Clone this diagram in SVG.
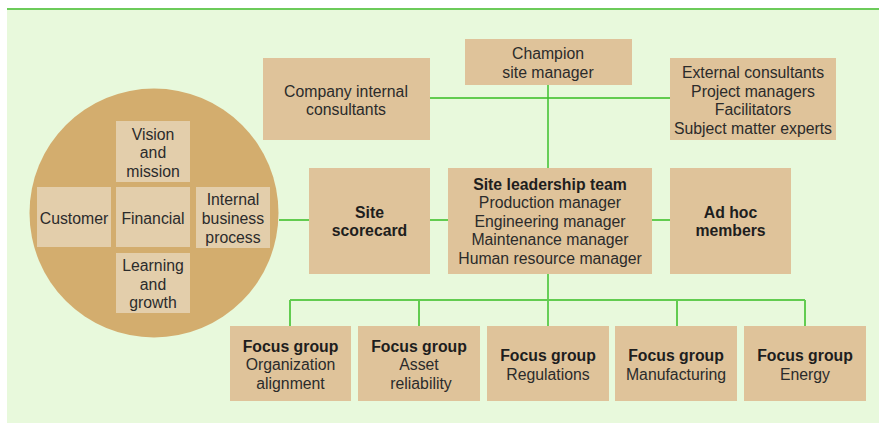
<svg xmlns="http://www.w3.org/2000/svg" width="879" height="423" viewBox="0 0 879 423">
<style>
text{font-family:"Liberation Sans",Arial,sans-serif;font-size:15.8px;fill:#2b2b2b;text-anchor:middle}
.b{font-weight:bold;fill:#1e1e1e}
.box{fill:#dfc39a}
.in{fill:#e3ceab}
.c{stroke:#3cc02c;stroke-width:1.5;fill:none}
.c2{stroke:#62cc50;stroke-width:2;fill:none}
</style>
<rect x="0" y="0" width="879" height="423" fill="#ffffff"/>
<rect x="7" y="9" width="872" height="414" fill="#e8f9dc"/>
<line x1="7" y1="9" x2="879" y2="9" stroke="#6ccb5a" stroke-width="2"/>
<g id="connectors">
<path class="c2" d="M430 98H670"/>
<path class="c" d="M548 85V168"/>
<path class="c2" d="M279 220H309M430 220H448M652 220H670"/>
<path class="c" d="M548 274V326"/>
<path class="c2" d="M290 300H805M290 300V326M419 300V326M677 300V326M805 300V326"/>
</g>
<g id="scorecard-circle">
<circle cx="154" cy="213" r="124.5" fill="#d3ad6e"/>
<g id="vision"><rect class="in" x="116" y="121" width="74" height="61"/><text x="153" y="140">Vision</text><text x="153" y="158">and</text><text x="153" y="177">mission</text></g>
<g id="customer"><rect class="in" x="37" y="187" width="74" height="60"/><text x="74" y="224">Customer</text></g>
<g id="financial"><rect class="in" x="116" y="187" width="74" height="60"/><text x="153" y="224">Financial</text></g>
<g id="internal"><rect class="in" x="196" y="187" width="74" height="61"/><text x="233" y="205">Internal</text><text x="233" y="224">business</text><text x="233" y="243">process</text></g>
<g id="learning"><rect class="in" x="116" y="253" width="74" height="60"/><text x="153" y="271">Learning</text><text x="153" y="290">and</text><text x="153" y="308">growth</text></g>
</g>
<g id="champion"><rect class="box" x="465" y="39" width="167" height="46"/><text x="548" y="59">Champion</text><text x="548" y="78">site manager</text></g>
<g id="internal-consultants"><rect class="box" x="263" y="58" width="167" height="82"/><text x="346" y="97">Company internal</text><text x="346" y="115">consultants</text></g>
<g id="external-consultants"><rect class="box" x="670" y="58" width="166" height="82"/><text x="753" y="78">External consultants</text><text x="753" y="97">Project managers</text><text x="753" y="115">Facilitators</text><text x="753" y="134">Subject matter experts</text></g>
<g id="site-scorecard"><rect class="box" x="309" y="168" width="121" height="106"/><text class="b" x="369.5" y="218">Site</text><text class="b" x="369.5" y="236">scorecard</text></g>
<g id="leadership"><rect class="box" x="448" y="168" width="204" height="106"/><text class="b" x="550" y="190">Site leadership team</text><text x="550" y="208">Production manager</text><text x="550" y="227">Engineering manager</text><text x="550" y="245">Maintenance manager</text><text x="550" y="264">Human resource manager</text></g>
<g id="adhoc"><rect class="box" x="670" y="168" width="121" height="106"/><text class="b" x="730.5" y="218">Ad hoc</text><text class="b" x="730.5" y="236">members</text></g>
<g id="fg-org"><rect class="box" x="230" y="326" width="121" height="75"/><text class="b" x="290.5" y="352">Focus group</text><text x="290.5" y="370">Organization</text><text x="290.5" y="389">alignment</text></g>
<g id="fg-asset"><rect class="box" x="358" y="326" width="122" height="75"/><text class="b" x="419" y="352">Focus group</text><text x="419" y="370">Asset</text><text x="421" y="389">reliability</text></g>
<g id="fg-reg"><rect class="box" x="487" y="326" width="122" height="75"/><text class="b" x="548" y="361">Focus group</text><text x="548" y="380">Regulations</text></g>
<g id="fg-man"><rect class="box" x="615" y="326" width="122" height="75"/><text class="b" x="676" y="361">Focus group</text><text x="676" y="380">Manufacturing</text></g>
<g id="fg-energy"><rect class="box" x="744" y="326" width="122" height="75"/><text class="b" x="805" y="361">Focus group</text><text x="805" y="380">Energy</text></g>
</svg>
